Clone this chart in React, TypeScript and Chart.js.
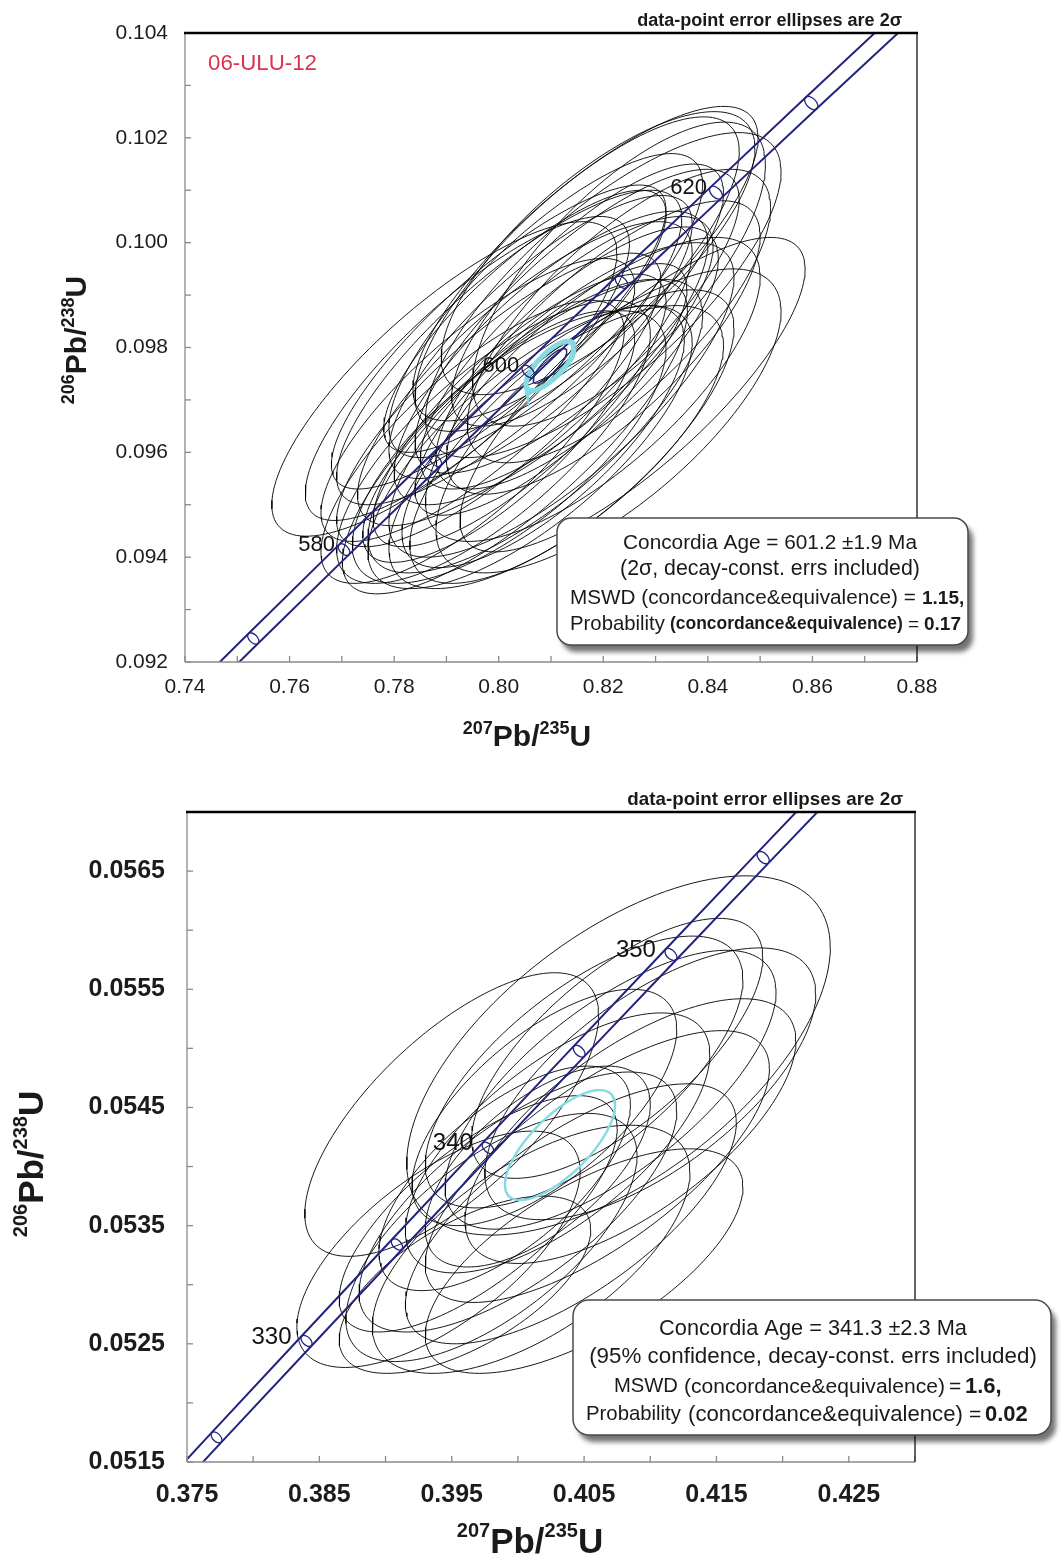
import React, { useEffect, useRef } from 'react';
import { Chart, registerables } from 'chart.js';

Chart.register(...registerables);

const FONT = '"Liberation Sans", Arial, Helvetica, sans-serif';
const NAVY = '#23237f';

// decay constants (1/yr)
const LAMBDA_238 = 1.55125e-10;
const LAMBDA_235 = 9.8485e-10;

// ================= upper diagram : 06-ULU-12 =================
const TOP_SAMPLE = '06-ULU-12';
const TOP_X_TICKS = [0.74, 0.75, 0.76, 0.77, 0.78, 0.79, 0.8, 0.81, 0.82, 0.83, 0.84, 0.85, 0.86, 0.87, 0.88];
const TOP_X_LABELS = ['0.74', '', '0.76', '', '0.78', '', '0.80', '', '0.82', '', '0.84', '', '0.86', '', '0.88'];
const TOP_Y_TICKS = [0.092, 0.093, 0.094, 0.095, 0.096, 0.097, 0.098, 0.099, 0.1, 0.101, 0.102, 0.103, 0.104];
const TOP_Y_LABELS = ['0.092', '', '0.094', '', '0.096', '', '0.098', '', '0.100', '', '0.102', '', '0.104'];

// error ellipses: centre 207Pb/235U, centre 206Pb/238U, 2-sigma errors, error correlation
const TOP_PB7U5 = [0.7896, 0.8031, 0.8256, 0.8166, 0.82, 0.805, 0.81, 0.8, 0.812, 0.815, 0.796, 0.807, 0.82, 0.802, 0.818, 0.809, 0.799, 0.814, 0.823, 0.8, 0.815, 0.806, 0.794, 0.811, 0.823, 0.821, 0.808, 0.804, 0.813, 0.795, 0.819, 0.802, 0.81, 0.805, 0.815, 0.8, 0.817, 0.8085];
const TOP_PB6U8 = [0.0974, 0.0963, 0.0971, 0.0996, 0.099, 0.0975, 0.0978, 0.097, 0.097, 0.0985, 0.097, 0.0965, 0.098, 0.098, 0.0972, 0.0988, 0.0962, 0.0963, 0.0986, 0.0982, 0.0994, 0.0961, 0.0976, 0.0961, 0.0994, 0.0966, 0.0982, 0.0968, 0.0979, 0.0962, 0.0998, 0.0961, 0.0972, 0.0985, 0.0978, 0.0963, 0.099, 0.0963];
const TOP_ERR75 = [0.033, 0.033, 0.033, 0.033, 0.034, 0.032, 0.03, 0.031, 0.033, 0.031, 0.03, 0.032, 0.03, 0.033, 0.032, 0.03, 0.03, 0.031, 0.029, 0.032, 0.031, 0.031, 0.031, 0.032, 0.028, 0.033, 0.029, 0.028, 0.028, 0.029, 0.03, 0.03, 0.026, 0.027, 0.027, 0.026, 0.026, 0.027];
const TOP_ERR68 = [0.003, 0.003, 0.003, 0.003, 0.0031, 0.0029, 0.0028, 0.0028, 0.003, 0.0029, 0.0027, 0.0028, 0.0028, 0.003, 0.0029, 0.0029, 0.0027, 0.0028, 0.0028, 0.0029, 0.003, 0.0027, 0.0029, 0.0027, 0.0029, 0.0029, 0.0027, 0.0026, 0.0026, 0.0027, 0.0027, 0.0026, 0.0024, 0.0025, 0.0025, 0.0024, 0.0025, 0.0025];
const TOP_RHO = [0.8, 0.8, 0.8, 0.8, 0.76, 0.8, 0.78, 0.82, 0.78, 0.8, 0.8, 0.76, 0.76, 0.82, 0.74, 0.8, 0.76, 0.74, 0.74, 0.84, 0.78, 0.74, 0.82, 0.72, 0.72, 0.72, 0.8, 0.8, 0.78, 0.78, 0.74, 0.72, 0.8, 0.82, 0.76, 0.78, 0.78, 0.74];
// concordia-age ellipse: [207/235, 206/238, err 207/235, err 206/238, rho]
const TOP_MEAN = [0.8098, 0.09765, 0.0046, 0.00047, 0.75];
const TOP_CURVE_AGES = [540, 550, 560, 570, 580, 590, 600, 610, 620, 630, 640, 650, 660];
const TOP_MARKER_AGES = [570, 580, 590, 600, 610, 620, 630];
const TOP_LABEL_AGES = [580, 600, 620];
const TOP_BAND = 0.0019;

// ================= lower diagram =================
const BOT_X_TICKS = [0.375, 0.38, 0.385, 0.39, 0.395, 0.4, 0.405, 0.41, 0.415, 0.42, 0.425, 0.43];
const BOT_X_LABELS = ['0.375', '', '0.385', '', '0.395', '', '0.405', '', '0.415', '', '0.425', ''];
const BOT_Y_TICKS = [0.0515, 0.052, 0.0525, 0.053, 0.0535, 0.054, 0.0545, 0.055, 0.0555, 0.056, 0.0565, 0.057];
const BOT_Y_LABELS = ['0.0515', '', '0.0525', '', '0.0535', '', '0.0545', '', '0.0555', '', '0.0565', ''];

const BOT_PB7U5 = [0.395, 0.4076, 0.405, 0.407, 0.403, 0.4, 0.398, 0.394, 0.401, 0.404, 0.406, 0.4085, 0.399, 0.402, 0.41, 0.4015, 0.405, 0.396, 0.4075, 0.397];
const BOT_PB6U8 = [0.05444, 0.05494, 0.0548, 0.05465, 0.0542, 0.0537, 0.0534, 0.0533, 0.0533, 0.0536, 0.054, 0.0543, 0.0539, 0.0545, 0.0547, 0.054, 0.0532, 0.053, 0.055, 0.0536];
const BOT_ERR75 = [0.0111, 0.016, 0.012, 0.0125, 0.0115, 0.012, 0.011, 0.0107, 0.012, 0.0125, 0.013, 0.0125, 0.0095, 0.01, 0.0125, 0.0085, 0.012, 0.0095, 0.011, 0.0105];
const BOT_ERR68 = [0.0012, 0.00152, 0.00115, 0.00118, 0.0011, 0.0011, 0.00105, 0.001, 0.00105, 0.0011, 0.00115, 0.00112, 0.00095, 0.001, 0.00115, 0.00085, 0.00095, 0.00075, 0.0011, 0.001];
const BOT_RHO = [0.7, 0.6, 0.68, 0.7, 0.68, 0.7, 0.66, 0.66, 0.62, 0.7, 0.72, 0.68, 0.66, 0.66, 0.66, 0.62, 0.66, 0.62, 0.7, 0.72];
const BOT_MEAN = [0.40318, 0.054182, 0.00416, 0.000465, 0.72];
const BOT_CURVE_AGES = [310, 315, 320, 325, 330, 335, 340, 345, 350, 355, 360, 365, 370];
const BOT_MARKER_AGES = [320, 325, 330, 335, 340, 345, 350, 355, 360];
const BOT_LABEL_AGES = [330, 340, 350];
const BOT_BAND = 0.0016;

const NOTE = 'data-point error ellipses are 2σ';

// ---------------- helpers ----------------
function ellipsePts(cx: number, cy: number, ex: number, ey: number, rho: number, n = 140) {
  const s = Math.sqrt(1 - rho * rho);
  const pts: { x: number; y: number }[] = [];
  for (let i = 0; i <= n; i++) {
    const t = (i / n) * Math.PI * 2;
    pts.push({ x: cx + ex * Math.cos(t), y: cy + ey * (rho * Math.cos(t) + s * Math.sin(t)) });
  }
  return pts;
}
function concordia(t: number) {
  return { x: Math.exp(LAMBDA_235 * t * 1e6) - 1, y: Math.exp(LAMBDA_238 * t * 1e6) - 1 };
}
function bandShift(t: number, delta: number) {
  const c = concordia(t);
  return (c.x + 1) * LAMBDA_235 * t * 1e6 * delta;
}

type PutOpts = { w?: number; size?: number; bold?: boolean; align?: CanvasTextAlign; color?: string };
function put(ctx: CanvasRenderingContext2D, text: string, x: number, cy: number, o: PutOpts) {
  const weight = o.bold ? 'bold ' : '';
  let size = o.size || 20;
  if (o.w) {
    ctx.font = `${weight}20px ${FONT}`;
    size = (20 * o.w) / ctx.measureText(text).width;
  }
  ctx.font = `${weight}${size}px ${FONT}`;
  ctx.textAlign = o.align || 'left';
  ctx.textBaseline = 'alphabetic';
  ctx.fillStyle = o.color || '#1a1a1a';
  ctx.fillText(text, x, cy + 0.36 * size);
}

function isotopeTitle(
  ctx: CanvasRenderingContext2D, parts: [string, string, string, string], x: number, y: number,
  main: number, sup: number, bold: boolean, rotated: boolean, raise: number
) {
  const w = bold ? 'bold ' : '';
  const runs = parts.map((t, i) => ({ t, size: i % 2 === 0 ? sup : main, dy: i % 2 === 0 ? -raise : 0 }));
  let total = 0;
  runs.forEach(r => { ctx.font = `${w}${r.size}px ${FONT}`; total += ctx.measureText(r.t).width; });
  ctx.save();
  ctx.translate(x, y);
  if (rotated) ctx.rotate(-Math.PI / 2);
  ctx.textAlign = 'left';
  ctx.textBaseline = 'alphabetic';
  ctx.fillStyle = '#1a1a1a';
  let cx = -total / 2;
  runs.forEach(r => {
    ctx.font = `${w}${r.size}px ${FONT}`;
    ctx.fillText(r.t, cx, r.dy);
    cx += ctx.measureText(r.t).width;
  });
  ctx.restore();
}

function roundBox(ctx: CanvasRenderingContext2D, x: number, y: number, w: number, h: number, r: number) {
  ctx.save();
  ctx.beginPath();
  ctx.roundRect(x, y, w, h, r);
  ctx.shadowColor = 'rgba(0,0,0,0.55)';
  ctx.shadowBlur = 5;
  ctx.shadowOffsetX = 5;
  ctx.shadowOffsetY = 7;
  ctx.fillStyle = '#ffffff';
  ctx.fill();
  ctx.restore();
  ctx.save();
  ctx.beginPath();
  ctx.roundRect(x, y, w, h, r);
  ctx.strokeStyle = '#4a4a4a';
  ctx.lineWidth = 1.5;
  ctx.stroke();
  ctx.restore();
}

type Panel = {
  width: number; height: number;
  area: { left: number; top: number; right: number; bottom: number };
  xMin: number; xMax: number; yMin: number; yMax: number;
  xTicks: number[]; xLabels: string[]; yTicks: number[]; yLabels: string[];
  pb7u5: number[]; pb6u8: number[]; err75: number[]; err68: number[]; rho: number[];
  mean: number[]; meanWidth: number; meanInner: boolean;
  curveAges: number[]; markerAges: number[]; labelAges: number[]; band: number;
  tickSize: number; tickBold: boolean; xPad: number; yPad: number;
  ageFont: number; ageDx: number; ageDy: number;
  annotate: (ctx: CanvasRenderingContext2D) => void;
};

const TOP_PANEL: Panel = {
  width: 1061, height: 770,
  area: { left: 185, top: 33, right: 917, bottom: 662 },
  xMin: 0.74, xMax: 0.88, yMin: 0.092, yMax: 0.104,
  xTicks: TOP_X_TICKS, xLabels: TOP_X_LABELS, yTicks: TOP_Y_TICKS, yLabels: TOP_Y_LABELS,
  pb7u5: TOP_PB7U5, pb6u8: TOP_PB6U8, err75: TOP_ERR75, err68: TOP_ERR68, rho: TOP_RHO,
  mean: TOP_MEAN, meanWidth: 5, meanInner: true,
  curveAges: TOP_CURVE_AGES, markerAges: TOP_MARKER_AGES, labelAges: TOP_LABEL_AGES, band: TOP_BAND,
  tickSize: 21, tickBold: false, xPad: 13, yPad: 17,
  ageFont: 22, ageDx: 9, ageDy: 7,
  annotate: (ctx) => {
    put(ctx, TOP_SAMPLE, 208, 62, { w: 109, color: '#d9344c' });
    put(ctx, NOTE, 902, 20, { w: 265, bold: true, align: 'right' });
    roundBox(ctx, 557, 518, 411, 127, 14);
    put(ctx, 'Concordia Age = 601.2 ±1.9 Ma', 770, 542, { w: 294, align: 'center' });
    put(ctx, '(2σ, decay-const. errs included)', 770, 567, { w: 300, align: 'center' });
    put(ctx, 'MSWD (concordance&equivalence) =', 570, 597, { w: 346 });
    put(ctx, '1.15,', 922, 597, { size: 19, bold: true });
    put(ctx, 'Probability', 570, 623, { w: 95 });
    put(ctx, '(concordance&equivalence)', 670, 623, { w: 233, bold: true });
    put(ctx, '=', 908, 623, { size: 19 });
    put(ctx, '0.17', 924, 623, { size: 19, bold: true });
    isotopeTitle(ctx, ['207', 'Pb/', '235', 'U'], 527, 746, 30, 18, true, false, 12);
    isotopeTitle(ctx, ['206', 'Pb/', '238', 'U'], 86, 340, 30, 18, true, true, 12);
  },
};

const BOT_PANEL: Panel = {
  width: 1061, height: 785,
  area: { left: 187, top: 42, right: 915, bottom: 692 },
  xMin: 0.375, xMax: 0.43, yMin: 0.0515, yMax: 0.057,
  xTicks: BOT_X_TICKS, xLabels: BOT_X_LABELS, yTicks: BOT_Y_TICKS, yLabels: BOT_Y_LABELS,
  pb7u5: BOT_PB7U5, pb6u8: BOT_PB6U8, err75: BOT_ERR75, err68: BOT_ERR68, rho: BOT_RHO,
  mean: BOT_MEAN, meanWidth: 2.4, meanInner: false,
  curveAges: BOT_CURVE_AGES, markerAges: BOT_MARKER_AGES, labelAges: BOT_LABEL_AGES, band: BOT_BAND,
  tickSize: 25, tickBold: true, xPad: 18, yPad: 22,
  ageFont: 24, ageDx: 15, ageDy: 6,
  annotate: (ctx) => {
    put(ctx, NOTE, 903, 28, { w: 276, bold: true, align: 'right' });
    roundBox(ctx, 573, 530, 478, 135, 16);
    put(ctx, 'Concordia Age = 341.3 ±2.3 Ma', 813, 557, { w: 308, align: 'center' });
    put(ctx, '(95% confidence, decay-const. errs included)', 813, 585, { w: 448, align: 'center' });
    put(ctx, 'MSWD', 614, 615, { w: 64 });
    put(ctx, '(concordance&equivalence)', 684, 615, { w: 261 });
    put(ctx, '=', 949, 615, { size: 21 });
    put(ctx, '1.6,', 965, 615, { size: 22, bold: true });
    put(ctx, 'Probability', 586, 643, { w: 95 });
    put(ctx, '(concordance&equivalence)', 688, 643, { w: 275 });
    put(ctx, '=', 969, 643, { size: 21 });
    put(ctx, '0.02', 985, 643, { size: 22, bold: true });
    isotopeTitle(ctx, ['207', 'Pb/', '235', 'U'], 530, 783, 35, 20, true, false, 16);
    isotopeTitle(ctx, ['206', 'Pb/', '238', 'U'], 43, 394, 35, 20, true, true, 16);
  },
};

function makeChart(canvas: HTMLCanvasElement, p: Panel) {
  const common = { showLine: true, pointRadius: 0, pointHoverRadius: 0, fill: false, tension: 0 };
  const datasets: any[] = [];
  const m = p.mean;
  datasets.push({ ...common, data: ellipsePts(m[0], m[1], m[2], m[3], m[4]), borderColor: '#86dbe3', borderWidth: p.meanWidth });
  if (p.meanInner) {
    datasets.push({ ...common, data: ellipsePts(m[0], m[1], m[2] * 0.7, m[3] * 0.7, Math.min(0.95, m[4] + 0.08)), borderColor: '#1d2a72', borderWidth: 1.4 });
  }
  datasets.push({
    ...common, borderColor: NAVY, borderWidth: 2,
    data: p.curveAges.map(t => { const c = concordia(t); return { x: c.x - bandShift(t, p.band), y: c.y }; }),
  });
  datasets.push({
    ...common, borderColor: NAVY, borderWidth: 2,
    data: p.curveAges.map(t => { const c = concordia(t); return { x: c.x + bandShift(t, p.band), y: c.y }; }),
  });
  for (let i = 0; i < p.pb7u5.length; i++) {
    datasets.push({
      ...common, borderColor: 'rgba(0,0,0,0.9)', borderWidth: 1,
      data: ellipsePts(p.pb7u5[i], p.pb6u8[i], p.err75[i], p.err68[i], p.rho[i]),
    });
  }

  const tickFont = { family: FONT, size: p.tickSize, weight: p.tickBold ? 'bold' : 'normal' };

  const decor = {
    id: 'decor',
    afterDatasetsDraw(chart: any) {
      const ctx: CanvasRenderingContext2D = chart.ctx;
      const a = chart.chartArea;
      const xs = chart.scales.x;
      const ys = chart.scales.y;
      ctx.save();
      ctx.beginPath();
      ctx.rect(a.left, a.top, a.right - a.left, a.bottom - a.top);
      ctx.clip();
      ctx.strokeStyle = NAVY;
      ctx.lineWidth = 1.3;
      p.markerAges.forEach(t => {
        const c = concordia(t);
        const px = xs.getPixelForValue(c.x);
        const py = ys.getPixelForValue(c.y);
        const hw = xs.getPixelForValue(c.x + bandShift(t, p.band)) - px;
        ctx.beginPath();
        ctx.ellipse(px, py, hw / Math.SQRT2, Math.max(3, hw * 0.42), Math.PI / 4, 0, Math.PI * 2);
        ctx.stroke();
      });
      ctx.restore();
      ctx.save();
      p.labelAges.forEach(t => {
        const c = concordia(t);
        const px = xs.getPixelForValue(c.x);
        const py = ys.getPixelForValue(c.y);
        put(ctx, String(t), px - p.ageDx, py - p.ageDy, { size: p.ageFont, align: 'right', color: '#111' });
      });
      ctx.restore();
    },
    afterDraw(chart: any) {
      const ctx: CanvasRenderingContext2D = chart.ctx;
      const a = chart.chartArea;
      const xs = chart.scales.x;
      const ys = chart.scales.y;
      const seg = (x1: number, y1: number, x2: number, y2: number) => {
        ctx.beginPath(); ctx.moveTo(x1, y1); ctx.lineTo(x2, y2); ctx.stroke();
      };
      ctx.save();
      ctx.strokeStyle = '#8a8a8a';
      ctx.lineWidth = 1.3;
      seg(a.left, a.top, a.left, a.bottom);
      seg(a.left, a.bottom, a.right, a.bottom);
      p.xTicks.forEach(v => { const x = xs.getPixelForValue(v); seg(x, a.bottom, x, a.bottom - 6); });
      p.yTicks.forEach(v => { const y = ys.getPixelForValue(v); seg(a.left, y, a.left + 6, y); });
      ctx.strokeStyle = '#333';
      ctx.lineWidth = 1.5;
      seg(a.right, a.top, a.right, a.bottom);
      ctx.strokeStyle = '#000';
      ctx.lineWidth = 2.6;
      seg(a.left - 1, a.top, a.right + 1, a.top);
      ctx.restore();
      ctx.save();
      p.annotate(ctx);
      ctx.restore();
    },
  };

  return new Chart(canvas, {
    type: 'scatter',
    data: { datasets },
    options: {
      animation: false,
      responsive: false,
      devicePixelRatio: 1,
      events: [],
      layout: { padding: { left: 0, top: p.area.top, right: p.width - p.area.right, bottom: 0 } },
      plugins: { legend: { display: false }, tooltip: { enabled: false } },
      scales: {
        x: {
          type: 'linear', min: p.xMin, max: p.xMax,
          afterBuildTicks: (s: any) => { s.ticks = p.xTicks.map(v => ({ value: v })); },
          afterFit: (s: any) => { s.height = p.height - p.area.bottom; },
          grid: { display: false, drawTicks: false },
          border: { display: false },
          ticks: {
            autoSkip: false, maxRotation: 0, padding: p.xPad, color: '#1c1c1c', font: tickFont as any,
            callback: (_v: any, i: number) => p.xLabels[i] ?? '',
          },
        },
        y: {
          type: 'linear', min: p.yMin, max: p.yMax,
          afterBuildTicks: (s: any) => { s.ticks = p.yTicks.map(v => ({ value: v })); },
          afterFit: (s: any) => { s.width = p.area.left; },
          grid: { display: false, drawTicks: false },
          border: { display: false },
          ticks: {
            autoSkip: false, padding: p.yPad, color: '#1c1c1c', font: tickFont as any,
            callback: (_v: any, i: number) => p.yLabels[i] ?? '',
          },
        },
      },
    },
    plugins: [decor],
  } as any);
}

export default function App() {
  const topRef = useRef<HTMLCanvasElement>(null);
  const botRef = useRef<HTMLCanvasElement>(null);
  useEffect(() => {
    const c1 = makeChart(topRef.current as HTMLCanvasElement, TOP_PANEL);
    const c2 = makeChart(botRef.current as HTMLCanvasElement, BOT_PANEL);
    return () => { c1.destroy(); c2.destroy(); };
  }, []);
  return (
    <div style={{ position: 'absolute', left: 0, top: 0, width: 1061, height: 1555, background: '#fff' }}>
      <canvas ref={topRef} width={1061} height={770}
        style={{ position: 'absolute', left: 0, top: 0, width: 1061, height: 770 }} />
      <canvas ref={botRef} width={1061} height={785}
        style={{ position: 'absolute', left: 0, top: 770, width: 1061, height: 785 }} />
    </div>
  );
}
